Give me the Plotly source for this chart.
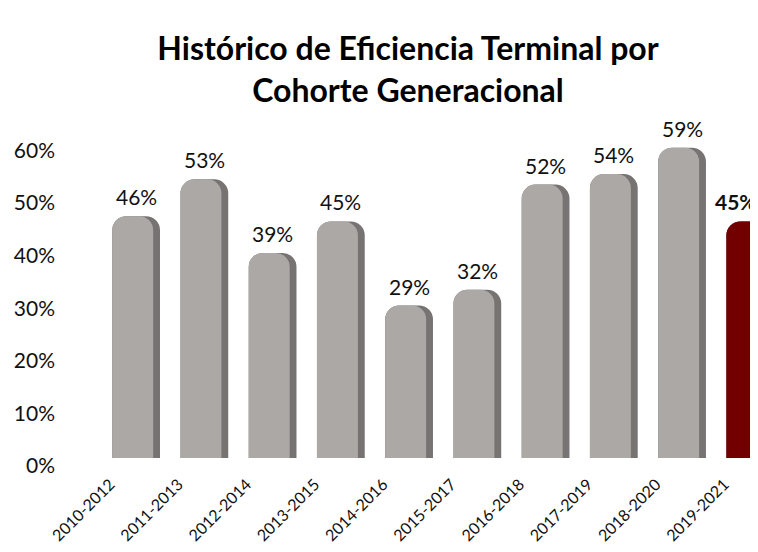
import plotly.graph_objects as go

cohortes = ["2010-2012", "2011-2013", "2012-2014", "2013-2015", "2014-2016",
            "2015-2017", "2016-2018", "2017-2019", "2018-2020", "2019-2021"]
eficiencia = [0.46, 0.53, 0.39, 0.45, 0.29, 0.32, 0.52, 0.54, 0.59, 0.45]
etiquetas = ["46%", "53%", "39%", "45%", "29%", "32%", "52%", "54%", "59%", "45%"]
y_ticks = [0, 0.1, 0.2, 0.3, 0.4, 0.5, 0.6]

n = len(cohortes)
sombra = ["#767372"] * (n - 1) + ["#480000"]
cuerpo = ["#ABA8A6"] * (n - 1) + ["#730000"]

fig = go.Figure()
# cara oscura (lado derecho del cilindro)
fig.add_trace(go.Bar(
    x=cohortes, y=eficiencia,
    marker={"color": sombra, "line": {"width": 0}, "cornerradius": 14},
    width=0.7, offset=-0.35, hoverinfo="skip",
))
# cuerpo claro
fig.add_trace(go.Bar(
    x=cohortes, y=eficiencia,
    marker={"color": cuerpo, "line": {"width": 0}, "cornerradius": 14},
    width=0.6, offset=-0.35, hoverinfo="skip",
))

# etiquetas de datos, la ultima en negrita y recorrida a la izquierda
for i, (c, v, t) in enumerate(zip(cohortes, eficiencia, etiquetas)):
    ultima = i == n - 1
    fig.add_annotation(
        x=c, y=v, text="<b>" + t + "</b>" if ultima else t,
        showarrow=False, yanchor="bottom", yshift=5,
        xshift=-14 if ultima else 0,
        font={"size": 21, "color": "#111111"},
    )

fig.update_layout(
    width=758, height=552,
    barmode="overlay",
    margin={"l": 94, "r": 0, "t": 124, "b": 102},
    font={"family": "Lato, 'Open Sans', sans-serif", "color": "#111111"},
    title={"text": "<b>Histórico de Eficiencia Terminal por<br>Cohorte Generacional</b>",
           "x": 400 / 758, "xanchor": "center", "y": 0.905, "yanchor": "top",
           "font": {"size": 32, "color": "#000000"}},
    paper_bgcolor="white", plot_bgcolor="white",
    showlegend=False,
)
fig.update_xaxes(range=[-0.5, 9.23], showline=False, showgrid=False, ticks="",
                 tickangle=-45, tickfont={"size": 16}, ticklabelshift=-26,
                 ticklabelstandoff=13)
fig.update_yaxes(range=[0, 0.62], tickvals=y_ticks, tickformat=".0%",
                 showgrid=False, zeroline=False, showline=False, ticks="",
                 tickfont={"size": 21}, ticklabelstandoff=46, ticklabelshift=8)

fig.write_html("out.html")
